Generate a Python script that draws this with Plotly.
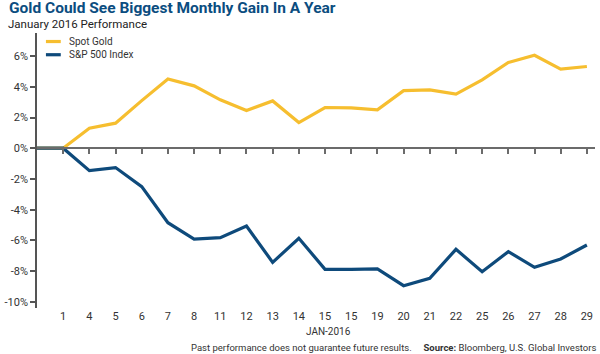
import plotly.graph_objects as go

# ---- data ----
day_labels = ["", "1", "4", "5", "6", "7", "8", "11", "12", "13", "14", "15", "15",
              "19", "20", "21", "22", "25", "26", "27", "28", "29"]
spot_gold = [0, 0, 1.30, 1.63, 3.10, 4.51, 4.06, 3.15, 2.45, 3.08, 1.67, 2.65, 2.62,
             2.50, 3.75, 3.80, 3.52, 4.45, 5.58, 6.05, 5.15, 5.32]
sp500 = [0, 0, -1.46, -1.26, -2.50, -4.85, -5.91, -5.82, -5.06, -7.43, -5.86, -7.88, -7.88,
         -7.86, -8.95, -8.47, -6.58, -8.04, -6.73, -7.75, -7.21, -6.30]
series_names = ["Spot Gold", "S&P 500 Index"]
y_ticks = [-10, -8, -6, -4, -2, 0, 2, 4, 6]
y_tick_labels = [f"{v}%" for v in y_ticks]

GOLD = "#F6BE2F"
BLUE = "#0E4A7B"
COLORS = [GOLD, BLUE]
FONT = "Roboto"

x_idx = list(range(len(day_labels)))
x_range = [0, 21.31]
y_range = [-10.4, 7.5]

fig = go.Figure()
for name, vals, col in zip(series_names, [spot_gold, sp500], COLORS):
    fig.add_trace(go.Scatter(x=x_idx, y=vals, mode="lines", name=name,
                             line=dict(color=col, width=3.2), showlegend=False))

zero_pos = (0 - y_range[0]) / (y_range[1] - y_range[0])

fig.update_layout(
    width=600, height=354,
    margin=dict(l=31, r=5, t=33, b=46),
    paper_bgcolor="white", plot_bgcolor="white",
    font=dict(family=FONT, size=11, color="#333333"),
    xaxis=dict(range=x_range, tickmode="array", tickvals=x_idx[1:], ticktext=day_labels[1:],
               showline=False, showgrid=False, zeroline=False, ticks="",
               tickfont=dict(size=11, color="#333333")),
    xaxis2=dict(range=x_range, overlaying="x", anchor="free", position=zero_pos,
                tickmode="array", tickvals=x_idx[1:], showticklabels=False,
                showline=True, linecolor="#6b6b6b", linewidth=1.5,
                ticks="outside", ticklen=5, tickwidth=1.5, tickcolor="#6b6b6b",
                showgrid=False, zeroline=False),
    yaxis=dict(range=y_range, tickmode="array", tickvals=y_ticks, ticktext=y_tick_labels,
               showline=True, linecolor="#555555", linewidth=1.5,
               ticks="outside", ticklen=5, tickwidth=1.5, tickcolor="#555555",
               showgrid=False, zeroline=False,
               tickfont=dict(size=11, color="#333333")),
)

# dummy trace to activate xaxis2
fig.add_trace(go.Scatter(x=[x_idx[0]], y=[0], xaxis="x2", mode="lines",
                         showlegend=False, hoverinfo="skip", line=dict(width=0)))

# custom legend (decoration, in paper coordinates)
legend_y = [0.969, 0.921]
for name, col, ly in zip(series_names, COLORS, legend_y):
    fig.add_shape(type="line", xref="paper", yref="paper", x0=0.016, x1=0.0426,
                  y0=ly, y1=ly, line=dict(color=col, width=3.2))
    fig.add_annotation(text=name, xref="paper", yref="paper", x=0.053, y=ly,
                       xanchor="left", yanchor="middle", showarrow=False,
                       font=dict(size=10, color="#333333"))

# x-axis caption
fig.add_annotation(text="JAN-2016", xref="paper", yref="paper", x=0.523, y=0, yshift=-23,
                   xanchor="center", yanchor="middle", showarrow=False,
                   font=dict(size=10, color="#333333"))

fig.add_annotation(text="<b>Gold Could See Biggest Monthly Gain In A Year</b>",
                   xref="paper", yref="paper", x=0, y=1, xshift=-29, yshift=25,
                   xanchor="left", yanchor="middle", showarrow=False, borderpad=0,
                   font=dict(family=FONT, size=15.5, color="#0B4D80"))
fig.add_annotation(text="January 2016 Performance",
                   xref="paper", yref="paper", x=0, y=1, xshift=-30, yshift=9,
                   xanchor="left", yanchor="middle", showarrow=False, borderpad=0,
                   font=dict(family=FONT, size=11.5, color="#222222"))
fig.add_annotation(text="Past performance does not guarantee future results.\u00a0\u00a0\u00a0\u00a0 <b>Source:</b> Bloomberg, U.S. Global Investors",
                   xref="paper", yref="paper", x=1, y=0, xshift=3, yshift=-39,
                   xanchor="right", yanchor="middle", showarrow=False,
                   font=dict(family=FONT, size=9.5, color="#333333"))

fig.write_html("out.html")
